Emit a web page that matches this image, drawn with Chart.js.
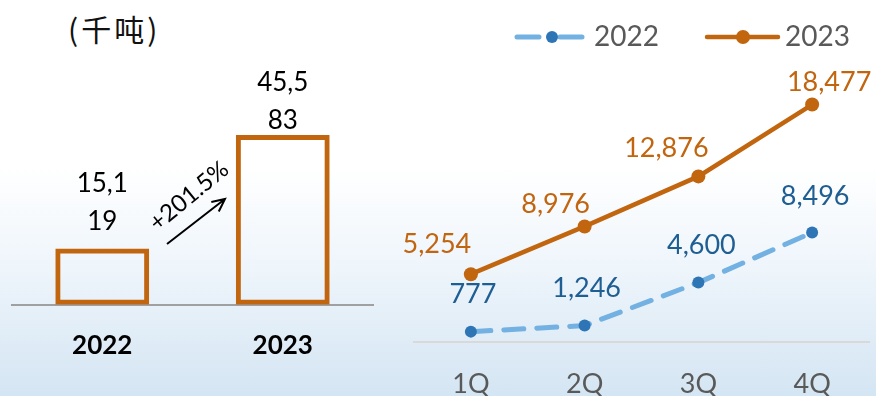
<!DOCTYPE html>
<html>
<head>
<meta charset="utf-8">
<script src="https://cdn.jsdelivr.net/npm/chart.js@4.4.1/dist/chart.umd.min.js"></script>
<style>
  html, body { margin: 0; padding: 0; }
  body {
    width: 876px; height: 396px; overflow: hidden; position: relative;
    background: linear-gradient(180deg, #ffffff 0%, #ffffff 42%, #eef5fb 68%, #d4e5f3 100%);
    font-family: Lato, sans-serif;
  }
  #unit {
    position: absolute; left: 68px; top: 6px;
    font: 400 30px "Noto Sans CJK SC", sans-serif; color: #111; letter-spacing: 3px;
  }
  #left { position: absolute; left: 0; top: 0; }
  #right { position: absolute; left: 380px; top: 0; }
</style>
</head>
<body>
<div id="unit">(千吨)</div>
<canvas id="left" width="380" height="450"></canvas>
<canvas id="right" width="496" height="450"></canvas>
<script>
// annual totals (thousand tonnes)
const years = ['2022', '2023'];
const annualTotals = [15119, 45583];

// quarterly volumes
const quarters = ['1Q', '2Q', '3Q', '4Q'];
const q2022 = [777, 1246, 4600, 8496];
const q2023 = [5254, 8976, 12876, 18477];

const ORANGE = '#c1650f';
const BLUE_DOT = '#2e75b6';
const BLUE_LINE = '#72b1e1';
const BLUE_TEXT = '#1f5e93';
const FONT = 'Lato, sans-serif';

// ---- left: bar chart with wrapped value labels and growth arrow ----
const barLabels = {
  id: 'barLabels',
  afterDatasetsDraw(chart) {
    const ctx = chart.ctx;
    const meta = chart.getDatasetMeta(0);
    ctx.save();
    ctx.fillStyle = '#000';
    ctx.font = '26px ' + FONT;
    ctx.textAlign = 'center';
    ctx.textBaseline = 'middle';
    meta.data.forEach((bar, i) => {
      const s = annualTotals[i].toLocaleString('en-US');
      let y1 = bar.y - 65;
      if (y1 < 83) y1 = 83;
      ctx.fillText(s.slice(0, 4), bar.x, y1);
      ctx.fillText(s.slice(4), bar.x, y1 + 38);
    });

    // growth arrow
    const x0 = 167, y0 = 244, x1 = 225, y1 = 199;
    ctx.strokeStyle = '#000';
    ctx.lineWidth = 2;
    ctx.beginPath();
    ctx.moveTo(x0, y0);
    ctx.lineTo(x1, y1);
    const ang = Math.atan2(y1 - y0, x1 - x0);
    const hl = 14;
    ctx.moveTo(x1 - hl * Math.cos(ang - 0.45), y1 - hl * Math.sin(ang - 0.45));
    ctx.lineTo(x1, y1);
    ctx.lineTo(x1 - hl * Math.cos(ang + 0.45), y1 - hl * Math.sin(ang + 0.45));
    ctx.stroke();

    const pct = ((annualTotals[1] / annualTotals[0] - 1) * 100).toFixed(1);
    ctx.translate(189, 196);
    ctx.rotate(-0.69);
    ctx.font = '24px ' + FONT;
    ctx.fillText('+' + pct + '%', 0, 0);
    ctx.restore();
  }
};

new Chart(document.getElementById('left'), {
  type: 'bar',
  data: {
    labels: years,
    datasets: [{
      data: annualTotals,
      backgroundColor: 'rgba(255,255,255,0)',
      borderColor: ORANGE,
      borderWidth: 5,
      borderSkipped: false,
      categoryPercentage: 0.52,
      barPercentage: 1
    }]
  },
  options: {
    responsive: false,
    animation: false,
    layout: { padding: { left: 12, right: 7, top: 85, bottom: 64 } },
    plugins: { legend: { display: false }, tooltip: { enabled: false } },
    scales: {
      x: {
        grid: { display: false, drawTicks: false },
        border: { display: true, color: '#a0a0a0', width: 2 },
        ticks: { color: '#000', font: { family: FONT, size: 26, weight: 'bold' }, padding: 25 }
      },
      y: { display: false, min: 0, max: 59000 }
    }
  },
  plugins: [barLabels]
});

// ---- right: quarterly lines ----
const labelOffsets = [
  [[2, -37], [2, -37], [3, -37], [3, -36]],
  [[-34, -30], [-29, -22], [-32, -28], [17, -22]]
];
const labelColors = [BLUE_TEXT, ORANGE];

const lineLabels = {
  id: 'lineLabels',
  afterDatasetsDraw(chart) {
    const ctx = chart.ctx;
    ctx.save();
    ctx.font = '27px ' + FONT;
    ctx.textAlign = 'center';
    ctx.textBaseline = 'middle';
    chart.data.datasets.forEach((ds, d) => {
      const meta = chart.getDatasetMeta(d);
      ctx.fillStyle = labelColors[d];
      meta.data.forEach((pt, i) => {
        const o = labelOffsets[d][i];
        ctx.fillText(ds.data[i].toLocaleString('en-US'), pt.x + o[0], pt.y + o[1]);
      });
    });

    // legend
    const items = [
      { x0: 137, x1: 202, dot: 172, tx: 214, ds: chart.data.datasets[0] },
      { x0: 327, x1: 398, dot: 363, tx: 405, ds: chart.data.datasets[1] }
    ];
    const ly = 37;
    items.forEach(it => {
      ctx.strokeStyle = it.ds.borderColor;
      ctx.lineWidth = it.ds.borderWidth;
      ctx.lineCap = 'round';
      ctx.setLineDash(it.ds.borderDash ? [22, 21] : []);
      ctx.beginPath();
      ctx.moveTo(it.x0, ly);
      ctx.lineTo(it.x1, ly);
      ctx.stroke();
      ctx.setLineDash([]);
      ctx.fillStyle = it.ds.pointBackgroundColor;
      ctx.beginPath();
      ctx.arc(it.dot, ly, it.ds.pointRadius, 0, Math.PI * 2);
      ctx.fill();
      ctx.fillStyle = '#595959';
      ctx.font = '28px ' + FONT;
      ctx.textAlign = 'left';
      ctx.fillText(it.ds.label, it.tx, ly);
    });
    ctx.restore();
  }
};

new Chart(document.getElementById('right'), {
  type: 'line',
  data: {
    labels: quarters,
    datasets: [{
      label: '2022',
      data: q2022,
      borderColor: BLUE_LINE,
      borderWidth: 5,
      borderDash: [20, 13],
      borderCapStyle: 'round',
      pointBackgroundColor: BLUE_DOT,
      pointBorderColor: BLUE_DOT,
      pointRadius: 6,
      pointBorderWidth: 0,
      tension: 0
    }, {
      label: '2023',
      data: q2023,
      borderColor: ORANGE,
      borderWidth: 4.5,
      borderCapStyle: 'round',
      pointBackgroundColor: ORANGE,
      pointBorderColor: ORANGE,
      pointRadius: 7,
      pointBorderWidth: 0,
      tension: 0
    }]
  },
  options: {
    responsive: false,
    animation: false,
    layout: { padding: { left: 34, right: 3, top: 85, bottom: 24 } },
    plugins: { legend: { display: false }, tooltip: { enabled: false } },
    scales: {
      x: {
        offset: true,
        grid: { display: false, drawTicks: false },
        border: { display: true, color: '#d9d9d9', width: 2 },
        ticks: { color: '#595959', font: { family: FONT, size: 27 }, padding: 26 }
      },
      y: { display: false, min: 0, max: 20000 }
    }
  },
  plugins: [lineLabels]
});
</script>
</body>
</html>
